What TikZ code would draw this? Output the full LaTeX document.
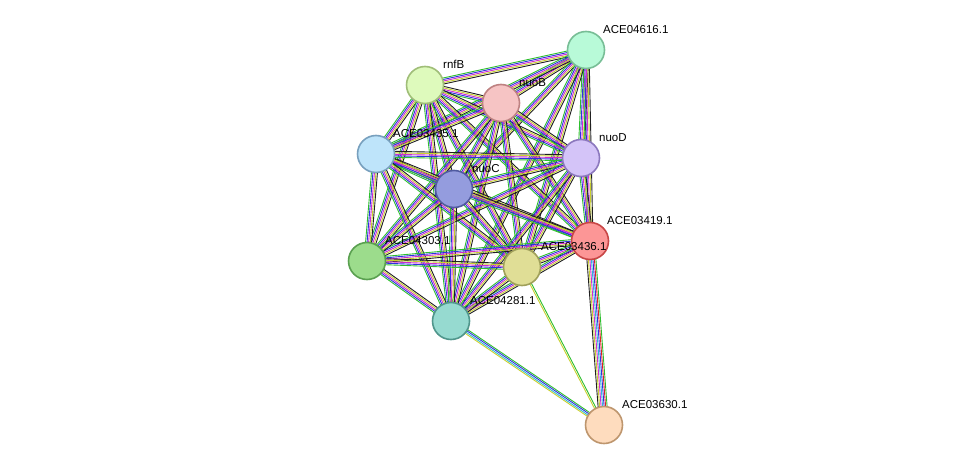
\documentclass[tikz,border=0pt]{standalone}
\usepackage{fontspec}
\setmainfont{Liberation Sans}
\usetikzlibrary{calc,backgrounds}
\definecolor{sg}{HTML}{2DBE2D}
\definecolor{sm}{HTML}{D02BD0}
\definecolor{sc}{HTML}{2DB8D8}
\definecolor{sy}{HTML}{C8CF2E}
\definecolor{sb}{HTML}{3030E0}
\definecolor{sr}{HTML}{E02020}
\definecolor{sk}{HTML}{202020}
\tikzset{x=1pt,y=-1pt,
 prot/.style={circle,minimum size=37pt,inner sep=0pt,line width=1.6pt},
 lab/.style={font=\fontsize{11.5}{12}\selectfont,anchor=south west,inner sep=1pt}}
\newcommand\bund[3]{\foreach \cc/\oo in #3{\draw[\cc,line width=0.9pt] ($(#1.center)!\oo pt!90:(#2.center)$) -- ($(#2.center)!\oo pt!-90:(#1.center)$);}}
\def\fullb{sg/-4.5,sr/-3,sb/-1.5,sc/0,sm/1.5,sy/3,sk/4.5}
\def\midb{sg/-3,sb/-1.5,sm/0,sy/1.5,sk/3}
\begin{document}
\begin{tikzpicture}
\useasboundingbox (0,0) rectangle (976,471);
\node[prot,fill={rgb,255:red,184;green,250;blue,216},draw={rgb,255:red,120;green,190;blue,150}] (A4616) at (586,50) {};
\node[prot,fill={rgb,255:red,222;green,250;blue,188},draw={rgb,255:red,160;green,190;blue,120}] (rnfB) at (425,85) {};
\node[prot,fill={rgb,255:red,246;green,196;blue,196},draw={rgb,255:red,190;green,130;blue,130}] (nuoB) at (501,103) {};
\node[prot,fill={rgb,255:red,190;green,228;blue,250},draw={rgb,255:red,120;green,160;blue,190}] (A3435) at (376,154) {};
\node[prot,fill={rgb,255:red,212;green,196;blue,248},draw={rgb,255:red,140;green,120;blue,190}] (nuoD) at (581,158) {};
\node[prot,fill={rgb,255:red,148;green,156;blue,222},draw={rgb,255:red,80;green,90;blue,160}] (nuoC) at (454,189) {};
\node[prot,fill={rgb,255:red,252;green,150;blue,150},draw={rgb,255:red,200;green,70;blue,70}] (A3419) at (590,241) {};
\node[prot,fill={rgb,255:red,156;green,220;blue,140},draw={rgb,255:red,90;green,160;blue,80}] (A4303) at (367,261) {};
\node[prot,fill={rgb,255:red,224;green,222;blue,150},draw={rgb,255:red,160;green,160;blue,90}] (A3436) at (522,267) {};
\node[prot,fill={rgb,255:red,150;green,218;blue,208},draw={rgb,255:red,80;green,150;blue,140}] (A4281) at (451,321) {};
\node[prot,fill={rgb,255:red,254;green,220;blue,190},draw={rgb,255:red,190;green,150;blue,110}] (A3630) at (604,425) {};
\begin{pgfonlayer}{background}
\foreach \a/\b in {A4616/rnfB,A4616/nuoB,A4616/A3435,A4616/nuoD,A4616/nuoC,A4616/A3419,A4616/A3436,A4616/A4281,
 rnfB/nuoB,rnfB/A3435,rnfB/nuoD,rnfB/nuoC,rnfB/A3419,rnfB/A4303,rnfB/A3436,rnfB/A4281,
 nuoB/A3435,nuoB/nuoD,nuoB/nuoC,nuoB/A3419,nuoB/A4303,nuoB/A3436,nuoB/A4281,
 A3435/nuoD,A3435/nuoC,A3435/A3419,A3435/A4303,A3435/A3436,A3435/A4281,
 nuoD/nuoC,nuoD/A3419,nuoD/A4303,nuoD/A3436,nuoD/A4281,
 nuoC/A3419,nuoC/A4303,nuoC/A3436,nuoC/A4281,
 A3419/A4303,A3419/A3436,A3419/A4281,A4303/A3436,A4303/A4281,A3436/A4281}{\bund{\a}{\b}{\midb}}
\bund{A3630}{A3419}{\fullb}
\bund{A3630}{A3436}{{sg/-0.8,sy/0.8}}
\bund{A3630}{A4281}{{sg/-2.2,sb/-0.8,sc/0.8,sy/2.2}}
\end{pgfonlayer}
\node[lab] at (602,35) {ACE04616.1};
\node[lab] at (442,70) {rnfB};
\node[lab] at (518,88) {nuoB};
\node[lab] at (392,139) {ACE03435.1};
\node[lab] at (598,143) {nuoD};
\node[lab] at (471,174) {nuoC};
\node[lab] at (606,226) {ACE03419.1};
\node[lab] at (384,246) {ACE04303.1};
\node[lab] at (540,252) {ACE03436.1};
\node[lab] at (469,306) {ACE04281.1};
\node[lab] at (621,410) {ACE03630.1};
\end{tikzpicture}
\end{document}
